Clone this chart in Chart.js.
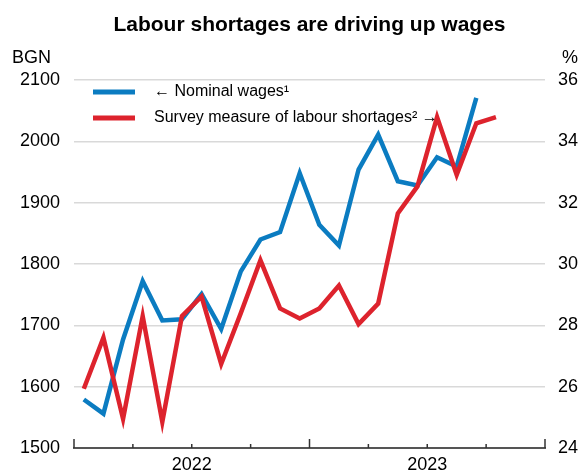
<!DOCTYPE html>
<html><head><meta charset="utf-8">
<script src="https://cdn.jsdelivr.net/npm/chart.js@4/dist/chart.umd.min.js"></script>
<style>html,body{margin:0;padding:0;background:#fff}#wrap{width:582px;height:473px}</style>
</head><body><div id="wrap"><canvas id="c" width="582" height="473"></canvas></div>
<script>
// Monthly observations, Jan 2022 .. Oct 2023
const months = ['2022-01','2022-02','2022-03','2022-04','2022-05','2022-06','2022-07','2022-08','2022-09','2022-10','2022-11','2022-12',
                '2023-01','2023-02','2023-03','2023-04','2023-05','2023-06','2023-07','2023-08','2023-09','2023-10'];
// Nominal wages, BGN (left axis) - Jan 2022 .. Sep 2023
const nominalWages = [1579,1556,1677,1772,1708,1710,1751,1694,1788,1840,1852,1948,1864,1830,1954,2011,1935,1928,1974,1959,2071];
// Survey measure of labour shortages, % (right axis) - Jan 2022 .. Oct 2023
const labourShortages = [25.93,27.6,24.95,28.3,24.85,28.3,28.94,26.74,28.4,30.12,28.55,28.22,28.55,29.3,28.04,28.71,31.65,32.53,34.79,32.91,34.59,34.79];
// Year labels and where they sit (month index from Jan 2022)
const yearLabels = ['2022','2023'];
const yearLabelPos = [6,18];
const quarterTicks = [0,3,6,9,12,15,18,21,24];
const leftTicks = [1500,1600,1700,1800,1900,2000,2100];
const rightTicks = [24,26,28,30,32,34,36];

const FONT = "Arial, 'Liberation Sans', Helvetica, sans-serif";
const BLUE = '#0b7cc1', RED = '#dd232d';

const toPts = arr => arr.map((v,i)=>({x:i+0.5, y:v}));

const deco = {
  id:'deco',
  afterDraw(chart){
    const ctx = chart.ctx, a = chart.chartArea, xs = chart.scales.x;
    ctx.save();
    // title
    ctx.fillStyle = '#000';
    ctx.font = 'bold 21px ' + FONT;
    ctx.textAlign = 'center'; ctx.textBaseline = 'alphabetic';
    ctx.fillText('Labour shortages are driving up wages', (a.left + a.right)/2, 31);
    // unit labels
    ctx.font = '18px ' + FONT;
    ctx.textAlign = 'left';
    ctx.fillText('BGN', 12, 63);
    ctx.fillText('%', 562, 63);
    // legend
    ctx.font = '16px ' + FONT;
    const items = [['\u2190 Nominal wages\u00b9', BLUE, 92], ['Survey measure of labour shortages\u00b2 \u2192', RED, 118]];
    items.forEach(([t,c,y])=>{
      ctx.strokeStyle = c; ctx.lineWidth = 5; ctx.lineCap = 'butt';
      ctx.beginPath(); ctx.moveTo(93,y); ctx.lineTo(135,y); ctx.stroke();
      ctx.fillStyle = '#000';
      ctx.textBaseline = 'middle';
      ctx.fillText(t, 154, y);
    });
    // x tick marks (pointing up into the plot)
    ctx.strokeStyle = '#333'; ctx.lineWidth = 1.5;
    quarterTicks.forEach(v=>{
      const x = xs.getPixelForValue(v);
      const len = v % 12 === 0 ? 9 : 4;
      ctx.beginPath(); ctx.moveTo(x, a.bottom); ctx.lineTo(x, a.bottom - len); ctx.stroke();
    });
    ctx.restore();
  }
};

new Chart(document.getElementById('c'), {
  type:'line',
  data:{
    datasets:[
      {label:'Survey measure of labour shortages', data:toPts(labourShortages), yAxisID:'y2',
       borderColor:RED, borderWidth:4.5, pointRadius:0, tension:0, fill:false},
      {label:'Nominal wages', data:toPts(nominalWages), yAxisID:'y',
       borderColor:BLUE, borderWidth:4.5, pointRadius:0, tension:0, fill:false}
    ]
  },
  options:{
    responsive:false, animation:false, devicePixelRatio:1,
    layout:{padding:{top:80,left:0,right:0,bottom:0}},
    plugins:{legend:{display:false}, tooltip:{enabled:false}, title:{display:false}},
    scales:{
      x:{type:'linear', min:0, max:24,
         afterBuildTicks(s){ s.ticks = quarterTicks.map(v=>({value:v})); },
         afterFit(s){ s.height = 25; },
         grid:{display:true, drawOnChartArea:false, drawTicks:false},
         border:{display:true, color:'#555', width:2},
         ticks:{autoSkip:false, maxRotation:0, padding:6, color:'#000', font:{family:FONT, size:18},
                callback:(v)=>{ const k = yearLabelPos.indexOf(v); return k>=0 ? yearLabels[k] : ''; }}
      },
      y:{position:'left', min:1500, max:2100,
         afterBuildTicks(s){ s.ticks = leftTicks.map(v=>({value:v})); },
         afterFit(s){ s.width = 74; },
         grid:{color:'#d9d9d9', lineWidth:1.5, drawTicks:false},
         border:{display:false},
         ticks:{padding:14, color:'#000', font:{family:FONT, size:18}, callback:(v)=>String(v)}
      },
      y2:{position:'right', min:24, max:36,
         afterBuildTicks(s){ s.ticks = rightTicks.map(v=>({value:v})); },
         afterFit(s){ s.width = 37; },
         grid:{display:false, drawTicks:false},
         border:{display:false},
         ticks:{padding:13, color:'#000', font:{family:FONT, size:18}, callback:(v)=>String(v)}
      }
    }
  },
  plugins:[deco]
});
</script></body></html>
